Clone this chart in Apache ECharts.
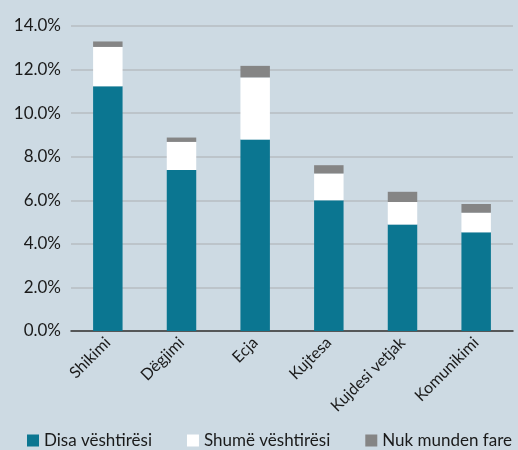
<!DOCTYPE html>
<html>
<head>
<meta charset="utf-8">
<script src="https://cdn.jsdelivr.net/npm/echarts@6/dist/echarts.min.js"></script>
<style>
  html, body { margin: 0; padding: 0; background: #cddae3; }
  #chart { width: 518px; height: 450px; }
</style>
</head>
<body>
<div id="chart"></div>
<script>
  var categories = ['Shikimi', 'Dëgjimi', 'Ecja', 'Kujtesa', 'Kujdesi vetjak', 'Komunikimi'];
  var disa = [11.24, 7.39, 8.79, 6.0, 4.89, 4.53];
  var shume = [1.8, 1.29, 2.85, 1.23, 1.03, 0.9];
  var nuk = [0.25, 0.2, 0.53, 0.38, 0.47, 0.4];

  var myChart = echarts.init(document.getElementById('chart'));
  var font = 'Lato, "Open Sans", sans-serif';
  var option = {
    backgroundColor: '#cddae3',
    textStyle: { fontFamily: font },
    grid: { left: 71, right: 5, top: 26, bottom: 119 },
    legend: {
      bottom: 1,
      left: 27,
      width: 491,
      padding: 0,
      itemWidth: 12,
      itemHeight: 12,
      itemGap: 35,
      icon: 'rect',
      textStyle: { fontSize: 17, color: '#1a1a1a', fontFamily: font },
      data: ['Disa vështirësi', 'Shumë vështirësi', 'Nuk munden fare']
    },
    xAxis: {
      type: 'category',
      data: categories,
      axisLine: { lineStyle: { color: '#333', width: 1.5 } },
      axisTick: { show: false },
      axisLabel: { rotate: 45, fontSize: 16, color: '#1a1a1a', margin: 9 }
    },
    yAxis: {
      type: 'value',
      min: 0,
      max: 14,
      interval: 2,
      axisLabel: {
        fontSize: 17,
        color: '#1a1a1a',
        margin: 10,
        formatter: function (v) { return v.toFixed(1) + '%'; }
      },
      splitLine: { lineStyle: { color: '#b6bcc2', width: 1.5 } }
    },
    series: [
      { name: 'Disa vështirësi', type: 'bar', stack: 'a', barWidth: '40%', color: '#0b7691', data: disa },
      { name: 'Shumë vështirësi', type: 'bar', stack: 'a', color: '#ffffff', data: shume },
      { name: 'Nuk munden fare', type: 'bar', stack: 'a', color: '#858585', data: nuk }
    ]
  };
  myChart.setOption(option);
</script>
</body>
</html>
